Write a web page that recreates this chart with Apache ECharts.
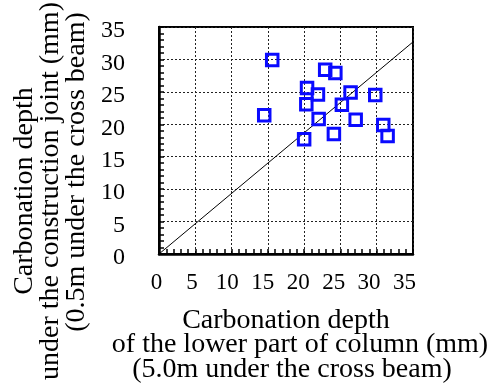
<!DOCTYPE html>
<html>
<head>
<meta charset="utf-8">
<script src="https://cdn.jsdelivr.net/npm/echarts@6/dist/echarts.min.js"></script>
<style>
  html, body { margin: 0; padding: 0; background: #fff; }
  #chart { width: 498px; height: 384px; }
</style>
</head>
<body>
<div id="chart"></div>
<script>
// Carbonation depth measured at two heights of the same columns (mm)
const lowerColumnDepth = [15.6, 22.9, 24.3, 20.4, 21.9, 26.4, 29.8, 20.3, 25.2, 14.5, 22.0, 27.1, 30.9, 31.5, 24.1, 20.0];
const jointDepth       = [29.9, 28.4, 27.9, 25.6, 24.6, 24.9, 24.5, 23.1, 23.0, 21.4, 20.8, 20.7, 19.9, 18.2, 18.5, 17.7];

// Reference line end points
const refLineX = [0, 35];
const refLineY = [0, 32.7];

// Axis range and tick step shared by both axes
const axisMin = 0;
const axisMax = 35;
const tickStep = 5;

const FONT = "'Liberation Serif', 'Times New Roman', serif";

const points = lowerColumnDepth.map((x, i) => [x, jointDepth[i]]);
const refLine = refLineX.map((x, i) => [x, refLineY[i]]);

const chart = echarts.init(document.getElementById('chart'), null, { renderer: 'canvas' });

const gridLine = { show: true, lineStyle: { color: '#222', width: 1, type: [2, 2] } };

const xTitle = { fontFamily: FONT, fontSize: 28, lineHeight: 24.5, color: '#000' };
const yTitle = { fontFamily: FONT, fontSize: 28, lineHeight: 26, color: '#000' };

// Axes that only carry tick labels, set slightly apart from the plot frame
const labelOnlyAxis = {
  type: 'value',
  min: axisMin, max: axisMax, interval: tickStep,
  axisLine: { show: false },
  axisTick: { show: false },
  splitLine: { show: false }
};

chart.setOption({
  animation: false,
  backgroundColor: '#fff',
  grid: [
    { left: 159, right: 85, top: 27, bottom: 130, show: true, borderColor: '#000', borderWidth: 2,
      containLabel: false, outerBoundsMode: 'none' },
    { left: 156.5, right: 93.5, top: 27, bottom: 130, show: false,
      containLabel: false, outerBoundsMode: 'none' },
    { left: 159, right: 85, top: 31, bottom: 126, show: false,
      containLabel: false, outerBoundsMode: 'none' }
  ],
  xAxis: [
    {
      gridIndex: 0,
      type: 'value',
      min: axisMin, max: axisMax, interval: tickStep,
      axisLine: { show: true, onZero: false, lineStyle: { color: '#000', width: 2.5 } },
      axisTick: { show: true, inside: true, length: 5, lineStyle: { color: '#000', width: 1.5 } },
      minorTick: { show: true, splitNumber: 5, length: 5, lineStyle: { color: '#000', width: 1.5 } },
      axisLabel: { show: false },
      splitLine: gridLine,
      name: '{a|Carbonation depth}\n{b|of the lower part of column (mm)}\n{c|(5.0m under the cross beam)}',
      nameLocation: 'middle',
      nameGap: 54,
      nameMoveOverlap: false,
      nameTextStyle: Object.assign({}, xTitle, {
        rich: {
          a: Object.assign({}, xTitle),
          b: Object.assign({}, xTitle, { padding: [0, 0, 0, 28] }),
          c: Object.assign({}, xTitle, { padding: [0, 0, 0, 12] })
        }
      })
    },
    Object.assign({ gridIndex: 1 }, labelOnlyAxis, {
      axisLabel: { show: true, margin: 17, fontFamily: FONT, fontSize: 23, color: '#000' }
    }),
    { gridIndex: 2, type: 'value', min: axisMin, max: axisMax, show: false }
  ],
  yAxis: [
    {
      gridIndex: 0,
      type: 'value',
      min: axisMin, max: axisMax, interval: tickStep,
      axisLine: { show: true, onZero: false, lineStyle: { color: '#000', width: 2.5 } },
      axisTick: { show: true, inside: true, length: 5, lineStyle: { color: '#000', width: 1.5 } },
      minorTick: { show: true, splitNumber: 5, length: 5, lineStyle: { color: '#000', width: 1.5 } },
      axisLabel: { show: false },
      splitLine: gridLine,
      name: '{c|Carbonation depth}\n{c|under the construction joint (mm)}\n{d|(0.5m under the cross beam)}',
      nameLocation: 'middle',
      nameGap: 69,
      nameMoveOverlap: false,
      nameTextStyle: Object.assign({}, yTitle, {
        padding: [0, 101, 0, 0],
        rich: {
          c: Object.assign({}, yTitle),
          d: Object.assign({}, yTitle, { padding: [0, 0, 0, 38] })
        }
      })
    },
    { gridIndex: 1, type: 'value', min: axisMin, max: axisMax, show: false },
    Object.assign({ gridIndex: 2 }, labelOnlyAxis, {
      axisLabel: { show: true, margin: 34, fontFamily: FONT, fontSize: 24, color: '#000' }
    })
  ],
  series: [
    {
      type: 'line',
      xAxisIndex: 0, yAxisIndex: 0,
      data: refLine,
      symbol: 'none',
      lineStyle: { color: '#000', width: 1 },
      z: 2,
      silent: true
    },
    {
      type: 'scatter',
      xAxisIndex: 0, yAxisIndex: 0,
      data: points,
      symbol: 'rect',
      symbolSize: 11.5,
      itemStyle: { color: 'rgba(0,0,0,0)', borderColor: '#0a0aff', borderWidth: 3, opacity: 1 },
      z: 3
    }
  ]
});
</script>
</body>
</html>
